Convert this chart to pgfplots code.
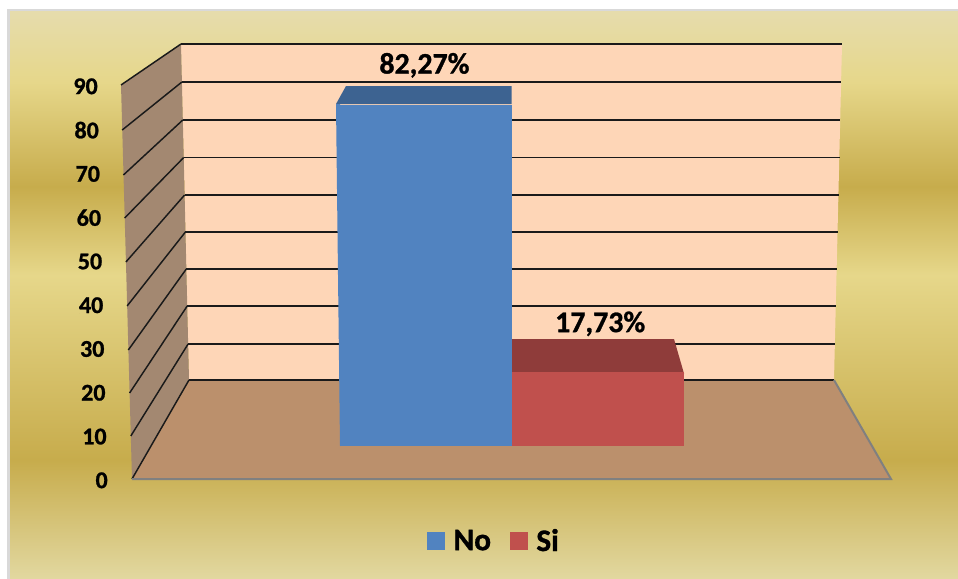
\documentclass[border=0pt]{standalone}
\usepackage{pgfplots}
\pgfplotsset{compat=1.18}
\usepackage{fontspec}
\setmainfont[BoldFeatures={FakeBold=1}]{Carlito}
\definecolor{g0}{HTML}{E2D8A0}
\definecolor{g1}{HTML}{C7AC4C}
\definecolor{g2}{HTML}{E6D78A}
\definecolor{g3}{HTML}{E6DCAC}
\definecolor{wall}{HTML}{FED6B7}
\definecolor{side}{HTML}{A38871}
\definecolor{floorc}{HTML}{BB906C}
\definecolor{barblue}{HTML}{5183C0}
\definecolor{topblue}{HTML}{3D6391}
\definecolor{barred}{HTML}{C0504D}
\definecolor{topred}{HTML}{8F3C3A}
\definecolor{gridc}{HTML}{1A1A1A}
\pgfdeclareverticalshading{gold}{100bp}{color(0bp)=(g0); color(25bp)=(g0); color(35.5bp)=(g1); color(51.8bp)=(g2); color(59.6bp)=(g1); color(68.8bp)=(g2); color(75bp)=(g3); color(100bp)=(g3)}
\pgfplotsset{canvas/.style={at={(0,0)},anchor=south west,width=718.5pt,height=434.25pt,scale only axis,clip=false}}
\begin{document}
\begin{tikzpicture}[x=0.75pt,y=0.75pt]
\path (0,0) rectangle (958,579);
\fill[black!15] (7,0) rectangle (958,570);
\shade[shading=gold] (10,0) rectangle (958,567);
% walls, floor, grid and the depth faces of the bars, in picture pixels
\begin{axis}[canvas,hide axis,xmin=0,xmax=958,ymin=0,ymax=579,y dir=reverse]
\addplot[fill=wall,draw=none] coordinates {(181,44)(842,44)(834,380)(189,380)} -- cycle;
\addplot[fill=side,draw=none] coordinates {(121,85)(181,44)(189,380)(132,479)} -- cycle;
\addplot[fill=floorc,draw=none] coordinates {(189,380)(834,380)(891,479)(132,479)} -- cycle;
% back wall grid
\addplot[gridc,line width=1.4pt] coordinates {(181,44)(842,44)};
\addplot[gridc,line width=1.4pt] coordinates {(181.9,82)(841,82)};
\addplot[gridc,line width=1.4pt] coordinates {(182.8,120)(840,120)};
\addplot[gridc,line width=1.4pt] coordinates {(183.7,157.5)(839.5,157.5)};
\addplot[gridc,line width=1.4pt] coordinates {(184.6,195)(838.5,195)};
\addplot[gridc,line width=1.4pt] coordinates {(185.4,232)(838,232)};
\addplot[gridc,line width=1.4pt] coordinates {(186.3,269)(837,269)};
\addplot[gridc,line width=1.4pt] coordinates {(187.2,306)(836,306)};
\addplot[gridc,line width=1.4pt] coordinates {(188.1,344)(835,344)};
\addplot[gridc,line width=0.9pt] coordinates {(189,380)(834,380)};
% side wall grid
\addplot[gridc,line width=1.1pt] coordinates {(121,85)(181,44)};
\addplot[gridc,line width=1.1pt] coordinates {(122.2,130)(181.9,82)};
\addplot[gridc,line width=1.1pt] coordinates {(123.4,175)(182.8,120)};
\addplot[gridc,line width=1.1pt] coordinates {(124.7,218)(183.7,157.5)};
\addplot[gridc,line width=1.1pt] coordinates {(125.9,262)(184.6,195)};
\addplot[gridc,line width=1.1pt] coordinates {(127.1,306)(185.4,232)};
\addplot[gridc,line width=1.1pt] coordinates {(128.3,350)(186.3,269)};
\addplot[gridc,line width=1.1pt] coordinates {(129.6,393)(187.2,306)};
\addplot[gridc,line width=1.1pt] coordinates {(130.8,436)(188.1,344)};
\addplot[gridc,line width=1.1pt] coordinates {(132,479)(189,380)};
% floor outer edges
\addplot[black!50,line width=1.5pt] coordinates {(132,479)(891,479)(834,380)};
% bar depth
\addplot[fill=topblue,draw=none] coordinates {(336,104)(346,86)(511.5,86)(511.5,104)} -- cycle;
\addplot[fill=barblue,draw=none] coordinates {(336,104)(340,104)(340,446)} -- cycle;
\addplot[fill=topred,draw=none] coordinates {(511,373.5)(511,339)(674,339)(684,373.5)} -- cycle;
\end{axis}
% bars
\begin{axis}[canvas,hide axis,xmin=0,xmax=958,ymin=-32.05,ymax=107.47,
  ybar,bar width=172,bar shift=0pt,
  nodes near coords={\pgfmathprintnumber[fixed,fixed zerofill,precision=2,use comma,assume math mode=true]{\pgfplotspointmeta}\%},
  nodes near coords style={font=\bfseries\fontsize{22.4}{24}\selectfont,black,inner sep=0pt,anchor=south},
  legend style={at={(0.5145,0.0656)},anchor=center,draw=none,fill=none,font=\bfseries\fontsize{23.5}{25}\selectfont,legend columns=2,
    /tikz/every even column/.append style={column sep=14pt},
    /tikz/every odd column/.append style={column sep=6.5pt},inner sep=0pt,nodes={inner sep=0pt}},
  legend image code/.code={\path[#1,draw=none] (0pt,-6.75pt) rectangle (13.5pt,6.75pt);},
  ]
\addplot[fill=barblue,draw=none,nodes near coords style={xshift=-0.8pt,yshift=20pt}] coordinates {(425.5,82.27)};
\addplot[fill=barred,draw=none,nodes near coords style={xshift=2pt,yshift=27pt}] coordinates {(597.5,17.73)};
\legend{No,Si}
\end{axis}
% value axis on the side wall
\begin{axis}[at={(81pt,75pt)},anchor=south west,width=20pt,height=295.5pt,scale only axis,clip=false,
  xmin=0,xmax=1,ymin=0,ymax=90,ytick={0,10,...,90},
  axis x line=none,axis y line=left,axis line style={draw=none},major tick length=0pt,
  /pgf/number format/assume math mode=true,
  yticklabel style={font=\bfseries\fontsize{18}{20}\selectfont,inner sep=0pt,anchor=east,yshift=-1pt},
  yticklabel={\pgfmathparse{\tick*0.75/9}\let\sp\pgfmathresult\pgfmathprintnumber{\tick}\hspace*{\sp pt}},
  ]
\addplot[draw=none] coordinates {(0,0)(1,90)};
\end{axis}
\end{tikzpicture}
\end{document}
